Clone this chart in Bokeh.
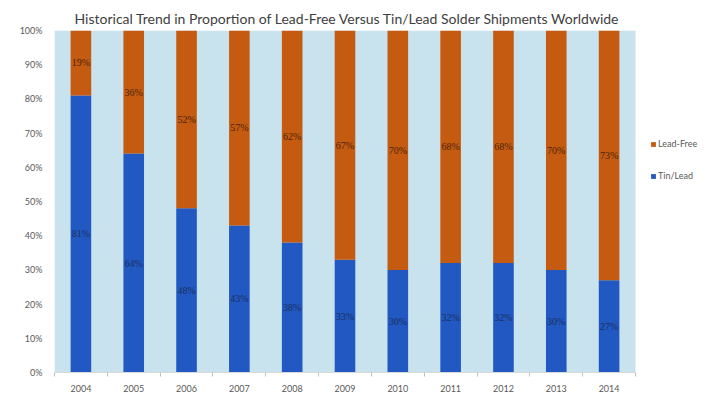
from bokeh.plotting import figure
from bokeh.models import ColumnDataSource, LabelSet, Legend, LegendItem, FixedTicker, NumeralTickFormatter, Range1d
from bokeh.embed import file_html
from bokeh.resources import INLINE

years = ["2004", "2005", "2006", "2007", "2008", "2009", "2010", "2011", "2012", "2013", "2014"]
tin_lead = [81, 64, 48, 43, 38, 33, 30, 32, 32, 30, 27]
lead_free = [19, 36, 52, 57, 62, 67, 70, 68, 68, 70, 73]
y_ticks = [0, 10, 20, 30, 40, 50, 60, 70, 80, 90, 100]

TIN_COLOR = "#2158c2"
FREE_COLOR = "#c55a11"
BG_COLOR = "#c8e2ee"

n = len(years)
xs = list(range(n))
src = ColumnDataSource(dict(
    x=xs,
    tin=[v / 100 for v in tin_lead],
    free_top=[(a + b) / 100 for a, b in zip(tin_lead, lead_free)],
    tin_mid=[v / 200 for v in tin_lead],
    free_mid=[(a + b / 2) / 100 for a, b in zip(tin_lead, lead_free)],
    tin_lbl=[f"{v}%" for v in tin_lead],
    free_lbl=[f"{v}%" for v in lead_free],
))

# plot area of 581px for the bars plus 70px to the right for the legend
unit = 581 / n
extra = 70
x_end = n - 0.5 + extra / unit

p = figure(frame_width=581 + extra, frame_height=342, output_backend="svg", toolbar_location=None,
           title="Historical Trend in Proportion of Lead-Free Versus Tin/Lead Solder Shipments Worldwide",
           x_range=Range1d(-0.5, x_end), y_range=Range1d(0, 1),
           min_border_left=54, min_border_right=0, min_border_top=30, min_border_bottom=24)
p.title.align = "left"
p.title.offset = 20
p.title.text_font = "Lato"
p.title.text_font_size = "14px"
p.title.text_font_style = "normal"
p.title.text_color = "#404040"
p.title.standoff = 8

p.background_fill_color = "white"
p.border_fill_color = "white"
p.outline_line_color = None
p.grid.visible = False

# light blue plot area behind the bars
p.quad(left=[-0.5], right=[n - 0.5], bottom=[0], top=[1], fill_color=BG_COLOR, line_color=None)

r_tin = p.vbar(x="x", bottom=0, top="tin", width=0.39, source=src, fill_color=TIN_COLOR, line_color=None)
r_free = p.vbar(x="x", bottom="tin", top="free_top", width=0.39, source=src, fill_color=FREE_COLOR, line_color=None)

p.add_layout(LabelSet(x="x", y="tin_mid", text="tin_lbl", source=src, text_align="center", text_baseline="middle",
                      text_font_size="10px", text_color="#1c2f5e", text_font="Lato"))
p.add_layout(LabelSet(x="x", y="free_mid", text="free_lbl", source=src, text_align="center", text_baseline="middle",
                      text_font_size="10px", text_color="#4a2408", text_font="Lato"))

# x axis
p.xaxis.ticker = FixedTicker(ticks=xs, minor_ticks=[i - 0.5 for i in range(n + 1)])
p.xaxis.bounds = (-0.5, n - 0.5)
p.xaxis.major_label_overrides = {i: y for i, y in enumerate(years)}
p.xaxis.major_tick_line_color = None
p.xaxis.minor_tick_line_color = "#bfbfbf"
p.xaxis.minor_tick_in = 0
p.xaxis.minor_tick_out = 4
p.xaxis.axis_line_color = "#d9d9d9"
p.xaxis.major_label_text_font_size = "9px"
p.xaxis.major_label_text_color = "#595959"
p.xaxis.major_label_text_font = "Lato"
p.xaxis.major_label_standoff = 6

# y axis
p.yaxis.ticker = FixedTicker(ticks=[t / 100 for t in y_ticks])
p.yaxis.formatter = NumeralTickFormatter(format="0%")
p.yaxis.axis_line_color = None
p.yaxis.major_tick_line_color = None
p.yaxis.minor_tick_line_color = None
p.yaxis.major_label_text_font_size = "9px"
p.yaxis.major_label_text_color = "#595959"
p.yaxis.major_label_text_font = "Lato"
p.yaxis.major_label_standoff = 6

legend = Legend(items=[LegendItem(label="Lead-Free", renderers=[r_free]),
                       LegendItem(label="Tin/Lead", renderers=[r_tin])],
                location=(596, 191), orientation="vertical")
legend.label_text_font = "Lato"
legend.label_text_font_size = "9px"
legend.label_text_color = "#595959"
legend.glyph_width = 6
legend.glyph_height = 6
legend.spacing = 21
legend.padding = 0
legend.margin = 0
legend.label_standoff = 2
legend.border_line_color = None
legend.background_fill_alpha = 0
p.add_layout(legend, "center")

open("out.html", "w").write(file_html(p, INLINE))
